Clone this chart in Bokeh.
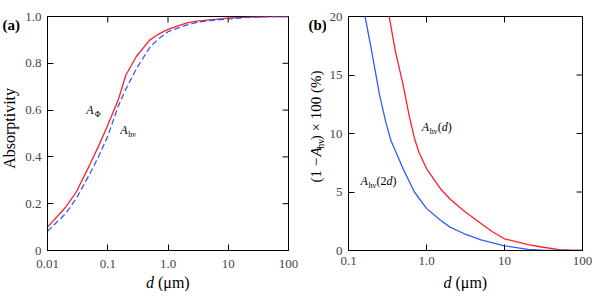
import math
from bokeh.plotting import figure
from bokeh.models import FixedTicker, Range1d
from bokeh.core.properties import value
from bokeh.layouts import row, column
from bokeh.embed import file_html
from bokeh.resources import INLINE

# ---- data: panel (a) absorptivity vs thickness d (um)
d_a = [0.01, 0.02, 0.03, 0.05, 0.07, 0.1, 0.15, 0.2, 0.3, 0.5, 0.7, 1.0, 2.0, 3.0, 5.0, 10.0, 20.0, 50.0, 100.0]
a_phi = [0.10, 0.185, 0.25, 0.365, 0.445, 0.535, 0.645, 0.75, 0.83, 0.90, 0.925, 0.945, 0.972, 0.98, 0.986, 0.993, 0.997, 1.0, 1.0]
a_hv = [0.082, 0.158, 0.222, 0.326, 0.40, 0.488, 0.618, 0.69, 0.778, 0.868, 0.905, 0.935, 0.963, 0.975, 0.983, 0.99, 0.996, 1.0, 1.0]

# ---- data: panel (b) (1 - A_hv) x 100 (%)
d_b1 = [0.33, 0.4, 0.5, 0.6, 0.7, 0.8, 1.0, 1.5, 2.0, 3.0, 5.0, 7.0, 10.0, 20.0, 30.0, 50.0, 70.0, 100.0]
loss_d = [20.1, 17.0, 14.2, 11.5, 9.6, 8.4, 7.0, 5.3, 4.4, 3.4, 2.3, 1.6, 1.0, 0.5, 0.3, 0.08, 0.02, 0.0]
d_b2 = [0.16, 0.2, 0.25, 0.3, 0.35, 0.5, 0.7, 1.0, 1.5, 2.0, 3.0, 5.0, 10.0, 20.0, 30.0, 50.0, 100.0]
loss_2d = [20.3, 16.9, 13.3, 11.0, 9.4, 7.0, 5.0, 3.6, 2.6, 2.0, 1.45, 0.9, 0.4, 0.1, 0.03, 0.0, 0.0]

xticks_a = [0.01, 0.1, 1.0, 10.0, 100.0]
xlabels_a = ["0.01", "0.1", "1.0", "10", "100"]
yticks_a = [0.0, 0.2, 0.4, 0.6, 0.8, 1.0]
ylabels_a = ["0", "0.2", "0.4", "0.6", "0.8", "1.0"]
xticks_b = [0.1, 1.0, 10.0, 100.0]
xlabels_b = ["0.1", "1.0", "10", "100"]
yticks_b = [0, 5, 10, 15, 20]

RED = "#ff1f2a"
BLUE = "#2f5bff"
SERIF = "Liberation Serif"
H1 = 274   # height of the row holding the panels
H2 = 17    # height of the row holding the x titles
TICK = 6
DESC = 0.22  # font descent (em), text is anchored at its bottom edge


def style_axis(ax, ticks, labels, standoff):
    ax.ticker = FixedTicker(ticks=ticks, minor_ticks=[])
    ax.axis_line_color = "black"
    ax.axis_line_width = 1
    ax.major_tick_in = TICK
    ax.major_tick_out = 0
    ax.minor_tick_in = 0
    ax.minor_tick_out = 0
    ax.major_tick_line_color = "black"
    ax.major_label_text_font = SERIF
    ax.major_label_text_font_size = "13px"
    ax.major_label_standoff = standoff
    if labels is not None:
        ax.major_label_overrides = {t: l for t, l in zip(ticks, labels)}


def frame_axes(p, xt, xl, yt, yl, xstand, ystand):
    style_axis(p.xaxis[0], xt, xl, xstand)
    style_axis(p.yaxis[0], yt, yl, ystand)
    p.xgrid.grid_line_color = None
    p.ygrid.grid_line_color = None
    p.outline_line_color = "black"
    p.outline_line_width = 1
    # inward ticks on the top and right edges (half of each dash is clipped by the frame)
    ytop = p.y_range.end
    xright = p.x_range.end
    p.scatter(xt, [ytop] * len(xt), marker="dash", size=2 * TICK, angle=math.pi / 2,
              line_color="black", line_width=1)
    p.scatter([xright] * len(yt), yt, marker="dash", size=2 * TICK,
              line_color="black", line_width=1)


def lab(p, x, y, text, size=12, italic=False, bold=False, xo=0, yo=0, angle=0.0, align="left"):
    """(x, y) + offsets give the text's baseline origin; the glyph is anchored at its bottom."""
    style = "bold" if bold else ("italic" if italic else "normal")
    dsc = DESC * size
    if angle == 0.0:
        ox, oy = xo, -(yo - dsc)
    else:  # rotated 90 deg counter-clockwise: "down" points to +x
        ox, oy = xo + dsc, -yo
    p.text(x=[x], y=[y], text=[text], x_offset=ox, y_offset=oy,
           text_font=value(SERIF), text_font_size=value(f"{size}px"),
           text_font_style=style, text_color="black", angle=angle,
           text_align=align, text_baseline="bottom")


def text_fig(w, h):
    f = figure(width=w, height=h, x_range=Range1d(0, w), y_range=Range1d(0, h),
               output_backend="svg", toolbar_location=None,
               min_border_left=0, min_border_right=0, min_border_top=0, min_border_bottom=0,
               x_axis_location=None, y_axis_location=None)
    f.xgrid.grid_line_color = None
    f.ygrid.grid_line_color = None
    f.outline_line_color = None
    return f


# ---------------- panel (a)
pa = figure(width=278, height=H1, x_axis_type="log", output_backend="svg", toolbar_location=None,
            x_range=Range1d(0.01, 100), y_range=Range1d(0, 1.0),
            min_border_left=27, min_border_right=10, min_border_top=12, min_border_bottom=24)
frame_axes(pa, xticks_a, xlabels_a, yticks_a, ylabels_a, 9, 6)
pa.line(d_a, a_phi, line_color=RED, line_width=1.3)
pa.line(d_a, a_hv, line_color=BLUE, line_width=1.3, line_dash="6 3")

lab(pa, 0.044, 0.582, "A", italic=True)
lab(pa, 0.044, 0.582, "Φ", size=8, xo=8.5, yo=-3)
lab(pa, 0.162, 0.497, "A", italic=True)
lab(pa, 0.162, 0.497, "hν", size=8, xo=8, yo=-3)

# left strip of panel (a): panel letter and y title
ya = text_fig(20, H1)
lab(ya, 2, H1 - 16, "(a)", size=15, bold=True)
lab(ya, 14, H1 - 131, "Absorptivity", size=16, angle=math.pi / 2, align="center")

# ---------------- panel (b)
pb = figure(width=266, height=H1, x_axis_type="log", output_backend="svg", toolbar_location=None,
            x_range=Range1d(0.1, 100), y_range=Range1d(0, 20),
            min_border_left=22, min_border_right=10, min_border_top=16, min_border_bottom=22)
frame_axes(pb, xticks_b, xlabels_b, yticks_b, None, 6, 6)
pb.line(d_b1, loss_d, line_color=RED, line_width=1.3)
pb.line(d_b2, loss_2d, line_color=BLUE, line_width=1.3)

lab(pb, 0.866, 10.22, "A", italic=True)
lab(pb, 0.866, 10.22, "hν", size=8, xo=8, yo=-3)
lab(pb, 0.866, 10.22, "(", xo=16)
lab(pb, 0.866, 10.22, "d", italic=True, xo=20)
lab(pb, 0.866, 10.22, ")", xo=26)

lab(pb, 0.1426, 5.54, "A", italic=True)
lab(pb, 0.1426, 5.54, "hν", size=8, xo=8, yo=-3)
lab(pb, 0.1426, 5.54, "(2", xo=16)
lab(pb, 0.1426, 5.54, "d", italic=True, xo=26)
lab(pb, 0.1426, 5.54, ")", xo=32)

# left strip of panel (b): panel letter and rotated y title (1 − A_hν) × 100 (%)
yb = text_fig(28, H1)
lab(yb, 10, H1 - 16, "(b)", size=15, bold=True)
ang = math.pi / 2
y0 = 79.5
lab(yb, 22, y0, "(1 −", size=15, angle=ang)
lab(yb, 22, y0 + 30.5, "A", size=15, italic=True, angle=ang)
lab(yb, 22, y0 + 39.7, "hν", size=10, xo=3, angle=ang)
lab(yb, 22, y0 + 49.7, ") × 100 (%)", size=15, angle=ang)

# bottom strip: x titles  d (μm)
xa = text_fig(298, H2)
lab(xa, 145.5, 4, "d", size=16, italic=True)
lab(xa, 157.5, 4, "(μm)", size=16)
xb = text_fig(294, H2)
lab(xb, 145, 4, "d", size=16, italic=True)
lab(xb, 157, 4, "(μm)", size=16)

layout = column(row(ya, pa, yb, pb), row(xa, xb))
open("out.html", "w").write(file_html(layout, INLINE))
